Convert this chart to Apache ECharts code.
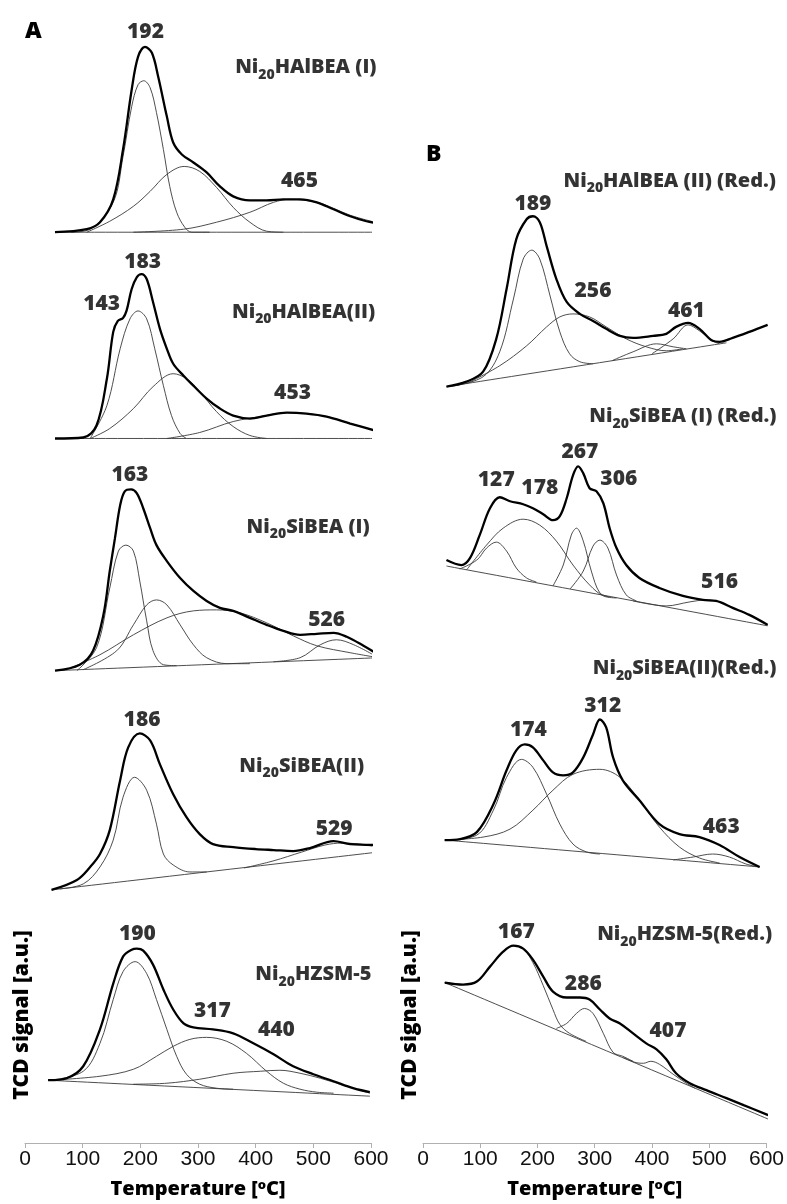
<!DOCTYPE html>
<html><head><meta charset="utf-8">
<script src="https://cdn.jsdelivr.net/npm/echarts@6/dist/echarts.min.js"></script>
<style>html,body{margin:0;padding:0;background:#fff}#c{width:787px;height:1204px}</style>
</head><body><div id="c"></div>
<script>
// Temperature ticks
const xTicks = [0, 100, 200, 300, 400, 500, 600];

// ---- Column A (stacked TCD signals, a.u.) : [T, signal] ----
const A1_env = [[52,914],[107,917],[130,924],[153,947],[170,997],[185,1057],[196,1090],[208,1100],[220,1094],[231,1070],[246,1030],[257,1004],[272,992],[292,984],[315,974],[338,960],[361,950],[390,946],[419,946],[448,947],[477,947],[506,944],[535,937],[564,930],[592,925],[613,923]];
const A1_c1 = [[80,914],[113,917],[153,944],[170,990],[185,1040],[196,1062],[206,1066],[217,1059],[228,1034],[240,997],[251,960],[263,934],[277,919],[289,914],[320,914]];
const A1_c2 = [[107,914],[147,925],[188,940],[217,955],[246,972],[276,980],[303,975],[332,959],[361,939],[390,924],[419,915],[448,914]];
const A1_c3 = [[188,914],[275,917],[332,924],[390,934],[431,944],[460,947],[506,944],[535,938],[564,931],[613,923]];
const A1_base = [[52,914],[613,914]];

const A2_env = [[52,707],[101,708],[124,720],[142,767],[153,814],[161,825],[170,828],[176,835],[185,857],[194,869],[202,872],[211,867],[222,844],[234,817],[246,797],[257,782],[275,770],[292,760],[315,747],[338,737],[361,730],[390,727],[419,730],[454,733],[488,732],[523,729],[564,722],[613,714]];
const A2_c1 = [[113,707],[142,740],[165,797],[182,827],[196,835],[211,827],[225,797],[240,760],[254,730],[269,712],[280,707]];
const A2_c2 = [[113,707],[147,717],[188,737],[222,759],[257,772],[280,767],[303,754],[332,734],[361,719],[390,710],[419,707]];
const A2_c3 = [[246,707],[303,713],[361,724],[419,730],[454,733],[488,732],[523,729],[564,722],[613,714]];
const A2_base = [[52,707],[613,707]];

const A3_env = [[52,474],[95,480],[118,494],[136,530],[147,574],[156,607],[165,640],[173,654],[184,656],[194,652],[205,637],[217,617],[228,600],[246,584],[269,567],[292,554],[315,544],[338,537],[361,534],[390,527],[419,520],[448,514],[477,510],[506,511],[535,512],[558,508],[587,499],[613,490]];
const A3_c1 = [[90,474],[124,497],[147,557],[162,594],[175,600],[188,594],[199,564],[211,524],[222,494],[240,480],[263,479]];
const A3_c2 = [[101,475],[159,494],[188,520],[211,540],[228,545],[246,540],[269,520],[292,500],[315,487],[350,481],[390,481]];
const A3_c3 = [[72,475],[130,490],[188,510],[246,527],[292,534],[332,535],[373,532],[419,522],[465,509],[506,499],[564,492],[613,487]];
const A3_c4 = [[431,483],[477,487],[512,500],[540,505],[570,500],[613,487]];
const A3_base = [[52,474],[613,487]];

const A4_env = [[46,254],[90,264],[113,277],[130,290],[147,314],[165,364],[179,397],[199,411],[217,404],[234,380],[257,350],[280,327],[303,310],[326,300],[361,297],[400,295],[431,294],[465,293],[494,296],[535,303],[564,300],[613,299]];
const A4_c1 = [[60,255],[101,260],[130,277],[153,304],[170,347],[190,367],[211,354],[228,320],[240,290],[257,279],[286,272],[315,272]];
const A4_c2 = [[380,276],[430,283],[480,292],[520,299],[550,301],[580,300],[613,297]];
const A4_base = [[46,254],[613,292]];

const A5_env = [[40,63],[72,65],[101,77],[130,114],[153,160],[170,187],[185,194],[194,195],[205,193],[222,179],[240,154],[257,134],[275,120],[292,116],[326,114],[361,110],[396,100],[431,89],[465,77],[500,69],[535,62],[569,55],[598,51]];
const A5_c1 = [[43,63],[101,72],[130,100],[153,144],[170,172],[191,182],[211,170],[228,144],[246,114],[263,87],[280,69],[303,59],[332,55],[361,54]];
const A5_c2 = [[43,63],[130,67],[188,74],[228,87],[257,97],[286,104],[315,106],[350,102],[384,90],[419,72],[448,60],[477,54],[506,51],[535,50]];
const A5_c3 = [[188,59],[246,60],[303,64],[361,70],[408,72],[442,73],[477,70],[512,65],[546,59],[598,50]];
const A5_base = [[40,63],[598,47]];

// ---- Column B (reduced samples) ----
const B1_env = [[41,759],[76,764],[105,774],[128,807],[146,857],[163,907],[181,927],[192,930],[204,924],[216,900],[233,867],[251,844],[274,832],[297,825],[320,817],[344,810],[367,808],[402,810],[425,812],[442,819],[463,823],[483,817],[506,805],[518,804],[541,808],[570,814],[602,821]];
const B1_c1 = [[47,759],[105,769],[134,794],[158,847],[175,887],[190,896],[204,887],[222,850],[239,814],[256,792],[274,784],[297,782]];
const B1_c2 = [[76,762],[134,780],[181,800],[216,819],[239,829],[262,832],[291,829],[320,819],[355,807],[390,799],[425,795],[454,797]];
const B1_c3 = [[330,785],[367,794],[408,802],[437,799],[460,797]];
const B1_c4 = [[400,792],[437,807],[463,821],[483,815],[506,805],[518,802]];
const B1_base = [[41,759],[530,803]];

const B2_env = [[41,585],[67,580],[82,587],[99,610],[117,637],[134,648],[152,644],[175,641],[192,637],[210,631],[227,625],[239,629],[251,647],[262,670],[271,679],[280,672],[291,657],[303,654],[315,642],[326,617],[338,597],[355,580],[378,567],[413,557],[454,549],[489,545],[512,544],[541,537],[570,530],[602,520]];
const B2_c1 = [[64,576],[94,585],[111,597],[128,603],[146,594],[163,577],[181,567],[198,563]];
const B2_c2 = [[76,575],[111,600],[140,617],[175,626],[204,620],[233,604],[262,580],[291,560],[315,549],[338,547]];
const B2_c3 = [[227,559],[245,580],[259,610],[268,617],[280,604],[294,574],[309,552],[326,548]];
const B2_c4 = [[257,556],[280,574],[297,599],[309,605],[323,597],[338,570],[355,550],[373,544]];
const B2_c5 = [[367,544],[425,539],[466,543],[495,545],[518,543],[541,537],[570,530],[602,520]];
const B2_base = [[41,579],[602,519]];

const B3_env = [[38,304],[65,305],[94,312],[123,340],[146,374],[163,394],[178,400],[192,397],[210,384],[227,372],[245,369],[262,372],[280,387],[297,410],[309,425],[320,417],[332,387],[349,364],[378,344],[413,320],[448,310],[483,307],[518,299],[553,287],[588,277]];
const B3_c1 = [[38,304],[94,309],[123,334],[146,367],[172,385],[192,377],[216,350],[239,320],[262,300],[286,292],[309,290]];
const B3_c2 = [[38,304],[105,307],[152,315],[192,334],[227,354],[262,370],[309,375],[344,367],[378,344],[413,317],[448,297],[483,286],[518,281]];
const B3_c3 = [[437,284],[472,287],[506,290],[535,287],[564,280],[588,277]];
const B3_base = [[38,304],[588,277]];

const B4_env = [[38,161],[70,159],[94,162],[117,177],[140,192],[158,198],[175,195],[192,184],[210,167],[227,152],[251,146],[274,146],[291,144],[309,134],[326,125],[344,120],[367,110],[390,100],[408,94],[425,84],[442,70],[466,60],[495,53],[530,45],[560,38],[603,28]];
const B4_c1 = [[38,161],[70,159],[94,162],[117,177],[140,192],[158,198],[175,195],[192,181],[210,158],[227,134],[239,119],[256,110],[285,102]];
const B4_c2 = [[233,115],[251,120],[268,130],[282,135],[297,130],[315,110],[332,91],[349,87],[367,82]];
const B4_c3 = [[350,86],[370,81],[385,80],[398,82],[413,79],[437,69],[460,60],[475,55]];
const B4_base = [[38,161],[603,24]];

// ---- Peak labels [T, signal, text] ----
const peaksA = [[209,1115,'192'],[476,965,'465'],[133,842,'143'],[204,884,'183'],[464,753,'453'],[182,670,'163'],[523,525,'526'],[203,424,'186'],[536,315,'529'],[195,210,'190'],[325,132,'317'],[436,113,'440']];
const peaksB = [[192,942,'189'],[297,855,'256'],[460,835,'461'],[128,665,'127'],[204,657,'178'],[274,693,'267'],[342,666,'306'],[518,563,'516'],[184,414,'174'],[314,439,'312'],[521,317,'463'],[163,212,'167'],[280,160,'286'],[428,112,'407']];
// ---- Sample names [T, signal, suffix after "Ni20"] ----
const namesA = [[487,1082,'HAlBEA (I)'],[483,837,'HAlBEA(II)'],[491,621,'SiBEA (I)'],[480,381,'SiBEA(II)'],[500,172,'HZSM-5']];
const namesB = [[431,968,'HAlBEA (II) (Red.)'],[454,732,'SiBEA (I) (Red.)'],[457,479,'SiBEA(II)(Red.)'],[457,212,'HZSM-5(Red.)']];

const panelsA = [
  {env:A1_env, comps:[A1_c1,A1_c2,A1_c3], base:A1_base},
  {env:A2_env, comps:[A2_c1,A2_c2,A2_c3], base:A2_base},
  {env:A3_env, comps:[A3_c1,A3_c2,A3_c3,A3_c4], base:A3_base},
  {env:A4_env, comps:[A4_c1,A4_c2], base:A4_base},
  {env:A5_env, comps:[A5_c1,A5_c2,A5_c3], base:A5_base}
];
const panelsB = [
  {env:B1_env, comps:[B1_c1,B1_c2,B1_c3,B1_c4], base:B1_base},
  {env:B2_env, comps:[B2_c1,B2_c2,B2_c3,B2_c4,B2_c5], base:B2_base},
  {env:B3_env, comps:[B3_c1,B3_c2,B3_c3], base:B3_base},
  {env:B4_env, comps:[B4_c1,B4_c2,B4_c3], base:B4_base}
];

const FONT = "'Open Sans', 'Noto Sans', sans-serif";
const W = 800;
function lineSeries(data, gi, w, color) {
  return {type:'line', xAxisIndex:gi, yAxisIndex:gi, data:data, smooth:0.35,
    showSymbol:false, symbol:'none', clip:false, silent:true,
    lineStyle:{width:w, color:color}, z: w > 2 ? 3 : 2};
}
const series = [];
[[panelsA,0],[panelsB,1]].forEach(([panels, gi]) => {
  panels.forEach(p => {
    series.push(lineSeries(p.base, gi, 0.9, '#3a3a3a'));
    p.comps.forEach(c => series.push(lineSeries(c, gi, 0.9, '#3a3a3a')));
    series.push(lineSeries(p.env, gi, 2.3, '#000'));
  });
});
[[peaksA,0],[peaksB,1]].forEach(([arr, gi]) => {
  series.push({type:'scatter', xAxisIndex:gi, yAxisIndex:gi, symbolSize:1, clip:false, silent:true,
    itemStyle:{color:'rgba(0,0,0,0)'},
    data:arr.map(d => ({value:[d[0],d[1]], name:d[2]})),
    label:{show:true, position:'inside', formatter:'{b}', color:'#000', textBorderWidth:0, textBorderColor:'transparent',
      fontFamily:FONT, fontWeight:W, fontSize:21}});
});
[[namesA,0],[namesB,1]].forEach(([arr, gi]) => {
  series.push({type:'scatter', xAxisIndex:gi, yAxisIndex:gi, symbolSize:1, clip:false, silent:true,
    itemStyle:{color:'rgba(0,0,0,0)'},
    data:arr.map(d => ({value:[d[0],d[1]], name:d[2]})),
    label:{show:true, position:'inside', offset:[0,6], color:'#000', textBorderWidth:0, textBorderColor:'transparent',
      formatter:p => '{n|Ni}{s|20}{n|' + p.name + '}',
      rich:{
        n:{fontFamily:FONT, fontWeight:W, fontSize:20, color:'#000', verticalAlign:'top', lineHeight:26, textBorderWidth:0},
        s:{fontFamily:FONT, fontWeight:W, fontSize:14, color:'#000', verticalAlign:'top', padding:[10,0,0,0], lineHeight:16, textBorderWidth:0}
      }}});
});

function xAx(gi) {
  return {type:'value', gridIndex:gi, min:xTicks[0], max:xTicks[xTicks.length-1], interval:100,
    axisLine:{show:true, lineStyle:{color:'#b0b0b0', width:1}},
    axisTick:{show:true, length:5, lineStyle:{color:'#b0b0b0'}},
    splitLine:{show:false},
    axisLabel:{margin:6, fontSize:21, color:'#111', fontFamily:"'Liberation Sans Narrow', 'Liberation Sans', sans-serif"},
    name:'{t|Temperature [}{o|o}{t|C]}', nameLocation:'middle', nameGap:36,
    nameTextStyle:{rich:{
      t:{fontFamily:FONT, fontWeight:W, fontSize:20, color:'#000', verticalAlign:'top', lineHeight:26},
      o:{fontFamily:FONT, fontWeight:W, fontSize:13, color:'#000', verticalAlign:'top', lineHeight:26}
    }}};
}
function yAx(gi) {
  return {type:'value', gridIndex:gi, min:0, max:1140, show:false};
}

const chart = echarts.init(document.getElementById('c'), null, {renderer:'canvas'});
chart.setOption({
  animation:false,
  backgroundColor:'#fff',
  grid:[{left:25, width:346, top:7, bottom:57}, {left:423, width:344, top:7, bottom:57}],
  xAxis:[xAx(0), xAx(1)],
  yAxis:[yAx(0), yAx(1)],
  series:series,
  graphic:[
    {type:'text', left:25, top:20, style:{text:'A', fontFamily:FONT, fontWeight:W, fontSize:23, fill:'#000'}},
    {type:'text', left:426, top:143, style:{text:'B', fontFamily:FONT, fontWeight:W, fontSize:23, fill:'#000'}},
    {type:'text', x:22, y:1015, rotation:Math.PI/2, style:{text:'TCD signal [a.u.]', fontFamily:FONT, fontWeight:W, fontSize:21, fill:'#000', align:'center', verticalAlign:'middle'}},
    {type:'text', x:410, y:1015, rotation:Math.PI/2, style:{text:'TCD signal [a.u.]', fontFamily:FONT, fontWeight:W, fontSize:21, fill:'#000', align:'center', verticalAlign:'middle'}}
  ]
});
</script>
</body></html>
